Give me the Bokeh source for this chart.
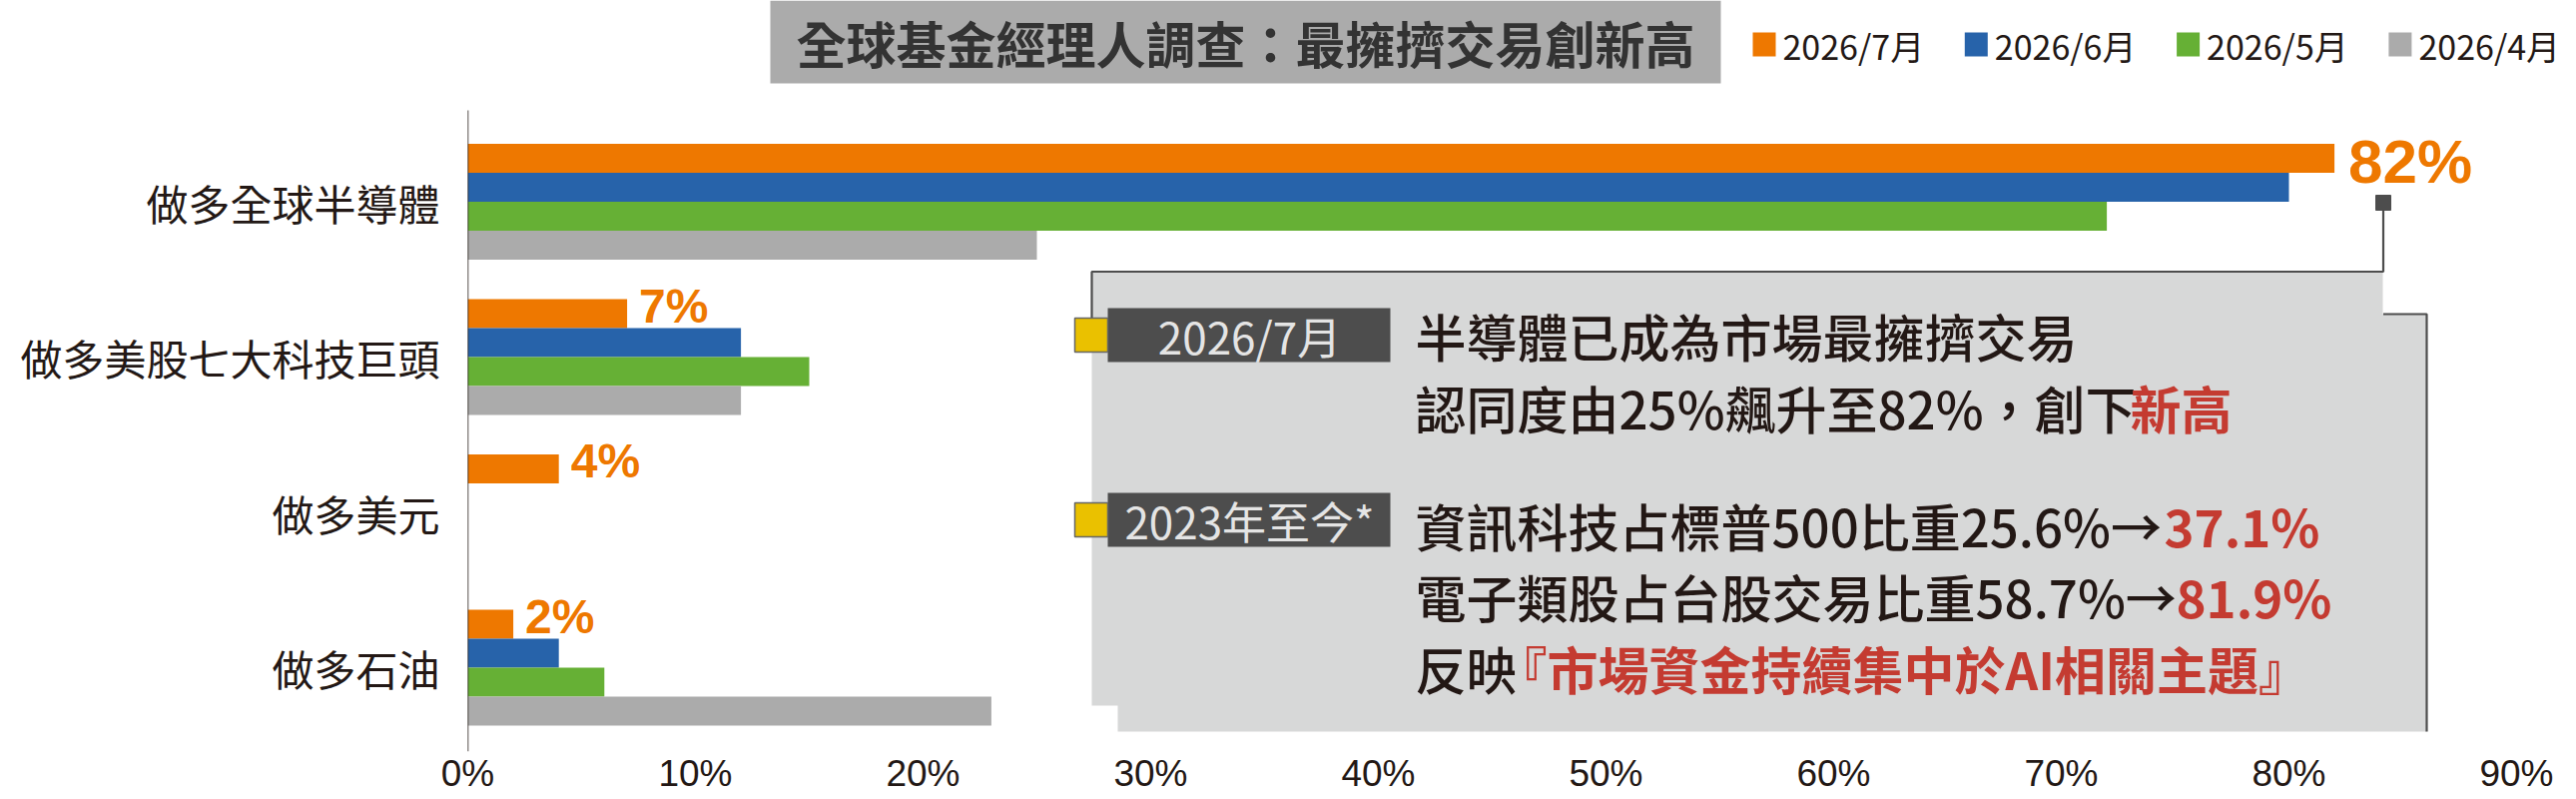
from bokeh.plotting import figure
from bokeh.models import Range1d, FixedTicker, ColumnDataSource
from bokeh.core.properties import value
from bokeh.embed import file_html
from bokeh.resources import INLINE

# ---------------- data ----------------
categories = ["做多全球半導體", "做多美股七大科技巨頭", "做多美元", "做多石油"]
series_names = ["2026/7月", "2026/6月", "2026/5月", "2026/4月"]
jul = [82, 7, 4, 2]
jun = [80, 12, 0, 4]
may = [72, 15, 0, 6]
apr = [25, 12, 0, 23]
series_colors = ["#EE7800", "#2763AA", "#66B035", "#ABABAB"]
x_ticks = [0, 10, 20, 30, 40, 50, 60, 70, 80, 90]
x_tick_labels = ["0%", "10%", "20%", "30%", "40%", "50%", "60%", "70%", "80%", "90%"]
title_text = "全球基金經理人調查：最擁擠交易創新高"
tag_texts = ["2026/7月", "2023年至今*"]
note_black = ["半導體已成為市場最擁擠交易", "認同度由25%飆升至82%，創下",
              "資訊科技占標普500比重25.6%→", "電子類股占台股交易比重58.7%→", "反映"]
note_red = ["", "新高", "37.1%", "81.9%", "『市場資金持續集中於AI相關主題』"]

# ---------------- layout helpers (page px -> data units) ----------------
X0, XS = 468.0, 22.8          # px of 0%, px per 1%
Y0, YS = 201.5, 155.5         # px of first category centre, px per category
def X(px):
    return (px - X0) / XS
def Y(py):
    return (py - Y0) / YS

FONT_CJK = "Noto Sans CJK TC"
FONT_MED = "Noto Sans CJK TC Medium, Noto Sans CJK TC"
FONT_NUM = "Liberation Sans"
INK = "#231815"

p = figure(width=2580, height=800,
           x_range=Range1d(0, X(2580)), y_range=Range1d(Y(752), Y(0)),
           output_backend="svg", toolbar_location=None,
           min_border_left=468, min_border_right=0, min_border_top=0, min_border_bottom=48)
p.outline_line_color = None
p.background_fill_color = "white"
p.xgrid.visible = False
p.ygrid.visible = False

# ---------------- bars ----------------
bh = 29.0 / YS
offsets = [-1.5 * bh, -0.5 * bh, 0.5 * bh, 1.5 * bh]
all_series = [jul, jun, may, apr]
for vals, off, col in zip(all_series, offsets, series_colors):
    src = ColumnDataSource(dict(y=[i + off for i in range(len(categories))], right=vals))
    p.hbar(y="y", right="right", left=0, height=bh, source=src,
           fill_color=col, line_color=None)

# category axis line
p.segment(x0=[0], y0=[Y(110)], x1=[0], y1=[Y(752)], line_color=INK, line_width=1.5)

# value labels for the latest month
p.text(x=jul[:1], y=[offsets[0]], text=[f"{v}%" for v in jul[:1]],
       x_offset=14, y_offset=3, text_baseline="middle", text_align="left",
       text_font=value(FONT_NUM), text_font_style="bold", text_font_size="62px",
       text_color=series_colors[0])
p.text(x=jul[1:], y=[i + offsets[0] for i in range(1, len(categories))],
       text=[f"{v}%" for v in jul[1:]],
       x_offset=12, y_offset=-8, text_baseline="middle", text_align="left",
       text_font=value(FONT_NUM), text_font_style="bold", text_font_size="48px",
       text_color=series_colors[0])

# ---------------- axes ----------------
xa = p.xaxis[0]
xa.ticker = FixedTicker(ticks=x_ticks)
xa.major_label_overrides = {t: l for t, l in zip(x_ticks, x_tick_labels)}
xa.axis_line_color = None
xa.major_tick_line_color = None
xa.minor_tick_line_color = None
xa.major_tick_out = 0
xa.major_tick_in = 0
xa.major_label_standoff = 1
xa.major_label_text_font = FONT_NUM
xa.major_label_text_font_size = "37px"
xa.major_label_text_color = INK

ya = p.yaxis[0]
ya.ticker = FixedTicker(ticks=list(range(len(categories))))
ya.major_label_overrides = {i: c for i, c in enumerate(categories)}
ya.axis_line_color = None
ya.major_tick_line_color = None
ya.minor_tick_line_color = None
ya.major_tick_out = 0
ya.major_tick_in = 0
ya.major_label_standoff = 28
ya.major_label_text_font = FONT_CJK
ya.major_label_text_font_size = "42px"
ya.major_label_text_color = INK

# ---------------- title ----------------
p.quad(left=[X(771)], right=[X(1723)], top=[Y(0)], bottom=[Y(83)],
       fill_color="#ABABAB", line_color=None)
p.text(x=[X(1247)], y=[Y(41)], text=[title_text], text_align="center", text_baseline="middle",
       text_font=value(FONT_CJK), text_font_style="bold", text_font_size="50px",
       text_color="#333333")

# ---------------- legend (drawn) ----------------
LEG_X0, LEG_DX = 1755.0, 212.3
for i, (name, col) in enumerate(zip(series_names, series_colors)):
    lx = LEG_X0 + LEG_DX * i
    p.quad(left=[X(lx)], right=[X(lx + 23)], top=[Y(32)], bottom=[Y(56)],
           fill_color=col, line_color=None)
    p.text(x=[X(lx + 30)], y=[Y(45)], text=[name], text_align="left", text_baseline="middle",
           text_font=value(FONT_CJK), text_font_size="34px", text_color=INK)

# ---------------- callout panel ----------------
PANEL = "#D7D8D8"
EDGE = "#4D4D4D"
p.quad(left=[X(1093)], right=[X(2386)], top=[Y(271)], bottom=[Y(706)],
       fill_color=PANEL, line_color=None)
p.quad(left=[X(1119)], right=[X(2430)], top=[Y(314)], bottom=[Y(732)],
       fill_color=PANEL, line_color=None)
p.line(x=[X(2386.5), X(2386.5), X(1093), X(1093)], y=[Y(210), Y(271.5), Y(271.5), Y(320)],
       line_color=EDGE, line_width=2.2)
p.line(x=[X(2386.5), X(2430), X(2430)], y=[Y(314), Y(314), Y(732)],
       line_color=EDGE, line_width=2.2)
p.scatter(x=[X(2386.5)], y=[Y(202.5)], marker="square", size=15,
          fill_color=EDGE, line_color=EDGE)

# tags
tag_centres = [335, 520]
for txt, cy in zip(tag_texts, tag_centres):
    p.quad(left=[X(1109)], right=[X(1392)], top=[Y(cy - 27)], bottom=[Y(cy + 27)],
           fill_color="#4D4D4D", line_color=None)
    p.quad(left=[X(1076)], right=[X(1109)], top=[Y(cy - 17)], bottom=[Y(cy + 17)],
           fill_color="#EAC100", line_color="#666666", line_width=1.5)
    p.text(x=[X(1251)], y=[Y(cy)], text=[txt], text_align="center", text_baseline="middle",
           text_font=value(FONT_CJK), text_font_size="44px", text_color="#E4E4E4")

# note lines
line_centres = [335, 407, 525, 596, 668]
red_starts = [None, 2133, 2167, 2179, 1498]
for blk, red, cy, rx in zip(note_black, note_red, line_centres, red_starts):
    p.text(x=[X(1417)], y=[Y(cy)], text=[blk], text_align="left", text_baseline="middle",
           text_font=value(FONT_MED), text_font_size="51px", text_color=INK)
    if red:
        p.text(x=[X(rx)], y=[Y(cy)], text=[red], text_align="left", text_baseline="middle",
               text_font=value(FONT_CJK), text_font_style="bold", text_font_size="51px",
               text_color="#C43B31")

open("out.html", "w").write(file_html(p, INLINE))
